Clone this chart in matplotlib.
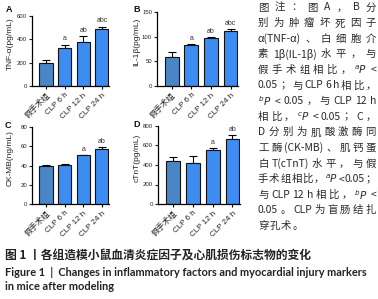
import matplotlib
matplotlib.use('Agg')
import matplotlib.pyplot as plt

W, H = 378, 299
fig = plt.figure(figsize=(W / 100, H / 100), dpi=100)
plt.rcParams['font.family'] = ['Liberation Sans', 'Noto Sans CJK SC']
plt.rcParams['mathtext.fontset'] = 'dejavusans'

groups = ['假手术组', 'CLP 6 h', 'CLP 12 h', 'CLP 24 h']

tnf_mean = [195, 325, 380, 485]
tnf_err = [25, 30, 45, 25]
tnf_sig = ['', 'a', 'ab', 'abc']

il1b_mean = [58, 83, 98, 111]
il1b_err = [10, 2, 2, 5]
il1b_sig = ['', 'a', 'ab', 'abc']

ckmb_mean = [39.5, 40.5, 50.5, 57.5]
ckmb_err = [1.0, 1.0, 0.6, 2.0]
ckmb_sig = ['', '', 'a', 'ab']

ctnt_mean = [440, 425, 550, 665]
ctnt_err = [45, 65, 25, 40]
ctnt_sig = ['', '', 'a', 'ab']

panels = [
    # letter, ylabel, means, errs, sigs, ymax, yticks, (left, right, top, bottom) px
    ('A', 'TNF-α(pg/mL)', tnf_mean, tnf_err, tnf_sig, 600, [0, 200, 400, 600], (32, 109, 16, 86)),
    ('B', 'IL-1β(pg/mL)', il1b_mean, il1b_err, il1b_sig, 150, [0, 50, 100, 150], (157, 238, 12, 86)),
    ('C', 'CK-MB(ng/mL)', ckmb_mean, ckmb_err, ckmb_sig, 80, [0, 20, 40, 60, 80], (32, 109, 127, 204)),
    ('D', 'cTnT(pg/mL)', ctnt_mean, ctnt_err, ctnt_sig, 800, [0, 200, 400, 600, 800], (158, 240, 126, 204)),
]
bar_colors = ['#4a86c6', '#3c8cf2', '#3c8cf2', '#3c8cf2']
letter_pos = {'A': (9, 10), 'B': (137, 10), 'C': (8, 126), 'D': (137, 125)}
ylabel_x = {'A': 10, 'B': 137, 'C': 10, 'D': 137}

for letter, ylab, means, errs, sigs, ymax, yt, (l, r, t, b) in panels:
    ax = fig.add_axes([l / W, 1 - b / H, (r - l) / W, (b - t) / H])
    x = list(range(len(groups)))
    ax.errorbar(x, means, yerr=[[0] * 4, errs], fmt='none', ecolor='black',
                elinewidth=0.8, capsize=3.2, capthick=0.8, zorder=1)
    ax.bar(x, means, width=0.7, color=bar_colors, edgecolor='#111111',
           linewidth=0.8, zorder=2)
    for xi, m, e, s in zip(x, means, errs, sigs):
        if s:
            ax.annotate(s, (xi, m + e), xytext=(0, 1.5), textcoords='offset points',
                        ha='center', va='bottom', fontsize=5, color='#333333')
    ax.set_xlim(-0.75, 3.38)
    ax.set_ylim(0, ymax)
    ax.set_yticks(yt)
    ax.set_xticks(x)
    ax.set_xticklabels(groups, rotation=45, ha='right', rotation_mode='anchor',
                       fontsize=5.8, color='#222222')
    ax.tick_params(axis='y', labelsize=4.3, length=2.5, width=0.8, pad=1, colors='#222222')
    ax.tick_params(axis='x', length=2.5, width=0.8, pad=1.5)
    for sp in ['top', 'right']:
        ax.spines[sp].set_visible(False)
    for sp in ['left', 'bottom']:
        ax.spines[sp].set_linewidth(0.9)
    ax.set_facecolor('none')
    fig.text(ylabel_x[letter] / W, 1 - ((t + b) / 2 - 7) / H, ylab, rotation=90,
             ha='center', va='center', fontsize=6, color='#222222')
    lx, ly = letter_pos[letter]
    fig.text(lx / W, 1 - ly / H, letter, ha='center', va='center', fontsize=6.5,
             fontweight='bold', color='#111111')

# ---------- note text (justified) ----------
note_lines = [
    '图注：图A，B分',
    '别为肿瘤坏死因子',
    'α(TNF-α)、白细胞介',
    '素1β(IL-1β) 水平，与',
    '假手术组相比，$^{a}P$ <',
    '0.05；与CLP 6 h相比，',
    '$^{b}P$ < 0.05，与CLP 12 h',
    '相比，$^{c}P$ < 0.05；C，',
    'D分别为肌酸激酶同',
    '工酶 (CK-MB)、肌钙蛋',
    '白T(cTnT) 水平，与假',
    '手术组相比，$^{a}P$< 0.05；',
    '与CLP 12 h相比，$^{b}P$ <',
    '0.05。CLP为盲肠结扎',
    '穿孔术。',
]


def tokenize(s):
    toks, cur, i = [], '', 0
    while i < len(s):
        c = s[i]
        if c == '$':
            j = s.index('$', i + 1)
            if cur:
                toks.append(cur)
                cur = ''
            toks.append(s[i:j + 1])
            i = j + 1
            continue
        if c == ' ':
            if cur:
                toks.append(cur)
                cur = ''
        elif ord(c) >= 0x2E80:
            if cur:
                toks.append(cur)
                cur = ''
            toks.append(c)
        else:
            cur += c
        i += 1
    if cur:
        toks.append(cur)
    return toks


renderer = fig.canvas.get_renderer()
note_left, note_right = 258, 376
note_y0, note_dy = 7.5, 15.6
note_fs = 7.5
note_font = ['Noto Sans CJK SC', 'DejaVu Sans']
for k, line in enumerate(note_lines):
    y = note_y0 + k * note_dy
    toks = tokenize(line)
    objs, widths = [], []
    for tk in toks:
        tobj = fig.text(0, 1 - y / H, tk, fontsize=note_fs, family=note_font,
                        color='#2a2a2a', ha='left', va='center')
        widths.append(tobj.get_window_extent(renderer).width)
        objs.append(tobj)
    last = (k == len(note_lines) - 1)
    if last or len(toks) == 1:
        gap = 1.0
    else:
        gap = (note_right - note_left - sum(widths)) / (len(toks) - 1)
    xcur = note_left
    for tobj, w in zip(objs, widths):
        tobj.set_x(xcur / W)
        xcur += w + gap

# ---------- caption ----------
def fit_text(x, y, s, target_w, **kw):
    tobj = fig.text(x / W, 1 - y / H, s, fontsize=8, ha='left', va='center', **kw)
    w = tobj.get_window_extent(renderer).width
    tobj.set_fontsize(8 * target_w / w)
    return tobj


fit_text(5, 256, '图 1 丨各组造模小鼠血清炎症因子及心肌损伤标志物的变化', 307,
         family=['Noto Sans CJK SC', 'DejaVu Sans'], fontweight='bold', color='#222222')
fit_text(5, 272, 'Figure 1  |  Changes in inflammatory factors and myocardial injury markers', 365,
         family=['Lato', 'DejaVu Sans'], fontweight='bold', color='#222222')
fit_text(5, 287, 'in mice after modeling', 110,
         family=['Lato', 'DejaVu Sans'], fontweight='bold', color='#222222')

fig.savefig('out.png', dpi=100)
